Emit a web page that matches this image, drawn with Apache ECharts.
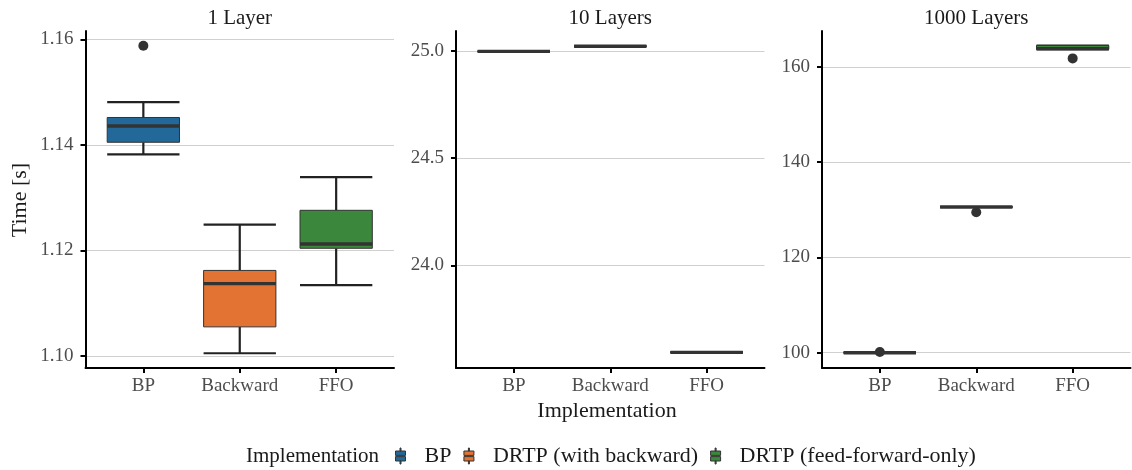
<!DOCTYPE html>
<html><head><meta charset="utf-8">
<script src="https://cdn.jsdelivr.net/npm/echarts@6/dist/echarts.min.js"></script>
<style>html,body{margin:0;padding:0;background:#fff}#c{width:1132px;height:470px}</style>
</head><body><div id="c"></div>
<script>
// ---------- data ----------
const categories = ['BP', 'Backward', 'FFO'];
const panelTitles = ['1 Layer', '10 Layers', '1000 Layers'];
const implementations = ['BP', 'DRTP (with backward)', 'DRTP (feed-forward-only)'];
const implColors = ['#22699A', '#E37332', '#3B873B'];
// boxplot stats per implementation: [lowerWhisker, Q1, median, Q3, upperWhisker]
const layer1Stats = [
  [1.1382, 1.1405, 1.1436, 1.1452, 1.1481],
  [1.1005, 1.1055, 1.1137, 1.1162, 1.1249],
  [1.1134, 1.1204, 1.1212, 1.1276, 1.1339]
];
const layer10Stats = [
  [24.998, 24.998, 24.998, 24.998, 24.998],
  [25.022, 25.022, 25.022, 25.022, 25.022],
  [23.595, 23.595, 23.595, 23.595, 23.595]
];
const layer1000Stats = [
  [100.0, 100.0, 100.0, 100.0, 100.0],
  [130.6, 130.6, 130.6, 130.6, 130.6],
  [163.7, 163.7, 163.85, 164.5, 164.5]
];
// outliers: [categoryIndex, value]
const layer1Outliers = [[0, 1.1588]];
const layer10Outliers = [];
const layer1000Outliers = [[0, 100.15], [1, 129.5], [2, 161.8]];
// y tick values
const layer1Ticks = [1.10, 1.12, 1.14, 1.16];
const layer10Ticks = [24.0, 24.5, 25.0];
const layer1000Ticks = [100, 120, 140, 160];
const layer1Range = [1.0977, 1.1616];
const layer10Range = [23.522, 25.093];
const layer1000Range = [96.79, 167.55];

const panelStats = [layer1Stats, layer10Stats, layer1000Stats];
const panelOutliers = [layer1Outliers, layer10Outliers, layer1000Outliers];
const panelTicks = [layer1Ticks, layer10Ticks, layer1000Ticks];
const panelRanges = [layer1Range, layer10Range, layer1000Range];
const tickDigits = [2, 1, 0];

// ---------- layout ----------
const FONT = 'Liberation Serif';
const gridLefts = [85.5, 456, 822];
const gridWidth = 308.5;
const gridTop = 31, gridHeight = 337;

const chart = echarts.init(document.getElementById('c'), null, {renderer: 'canvas'});

function renderBox(params, api) {
  const x = api.value(0);
  const lo = api.value(1), q1 = api.value(2), md = api.value(3), q3 = api.value(4), hi = api.value(5);
  const hw = api.size([0.75, 0])[0] / 2;
  const pLo = api.coord([x, lo]), pQ1 = api.coord([x, q1]), pMd = api.coord([x, md]);
  const pQ3 = api.coord([x, q3]), pHi = api.coord([x, hi]);
  const cx = pMd[0];
  const color = api.visual('color');
  const wl = {stroke: '#222', lineWidth: 2.2, lineCap: 'butt'};
  return {
    type: 'group',
    children: [
      {type: 'line', shape: {x1: cx, y1: pQ3[1], x2: cx, y2: pHi[1]}, style: wl},
      {type: 'line', shape: {x1: cx, y1: pQ1[1], x2: cx, y2: pLo[1]}, style: wl},
      {type: 'line', shape: {x1: cx - hw, y1: pHi[1], x2: cx + hw, y2: pHi[1]}, style: wl},
      {type: 'line', shape: {x1: cx - hw, y1: pLo[1], x2: cx + hw, y2: pLo[1]}, style: wl},
      {type: 'rect', shape: {x: cx - hw, y: pQ3[1], width: 2 * hw, height: pQ1[1] - pQ3[1]},
        style: {fill: color, stroke: '#333', lineWidth: 1}},
      {type: 'line', shape: {x1: cx - hw, y1: pMd[1], x2: cx + hw, y2: pMd[1]},
        style: {stroke: '#333', lineWidth: 3.4, lineCap: 'butt'}}
    ]
  };
}

const grids = [], xAxes = [], yAxes = [], series = [], titles = [];
for (let p = 0; p < 3; p++) {
  grids.push({left: gridLefts[p], top: gridTop, width: gridWidth, height: gridHeight, containLabel: false});
  xAxes.push({
    type: 'value', gridIndex: p, min: -0.6, max: 2.6,
    axisLine: {show: true, onZero: false, lineStyle: {color: '#000', width: 2}},
    axisTick: {show: true, customValues: [0, 1, 2], length: 5, lineStyle: {color: '#000', width: 2}},
    axisLabel: {customValues: [0, 1, 2], formatter: v => categories[Math.round(v)],
      color: '#4d4d4d', fontFamily: FONT, fontSize: 19, margin: 9},
    splitLine: {show: false}
  });
  const d = tickDigits[p];
  yAxes.push({
    type: 'value', gridIndex: p, min: panelRanges[p][0], max: panelRanges[p][1],
    axisLine: {show: true, onZero: false, lineStyle: {color: '#000', width: 2}},
    axisTick: {show: true, customValues: panelTicks[p], length: 5, lineStyle: {color: '#000', width: 2}},
    axisLabel: {customValues: panelTicks[p], formatter: v => Number(v).toFixed(d),
      color: '#4d4d4d', fontFamily: FONT, fontSize: 19, margin: 12},
    splitLine: {show: true, lineStyle: {color: '#d0d0d0', width: 1}}
  });
  for (let s = 0; s < 3; s++) {
    series.push({
      type: 'custom', name: implementations[s], xAxisIndex: p, yAxisIndex: p,
      itemStyle: {color: implColors[s]},
      dimensions: ['x', 'lo', 'q1', 'md', 'q3', 'hi'],
      encode: {x: 0, y: [1, 2, 3, 4, 5]},
      renderItem: renderBox,
      data: [[s].concat(panelStats[p][s])],
      z: 2
    });
  }
  series.push({
    type: 'scatter', xAxisIndex: p, yAxisIndex: p, symbolSize: 10,
    itemStyle: {color: '#333', opacity: 1}, data: panelOutliers[p], z: 5, silent: true
  });
  titles.push({
    text: panelTitles[p], left: gridLefts[p] + gridWidth / 2, top: 8, textAlign: 'center', padding: 0,
    textStyle: {fontFamily: FONT, fontSize: 21, fontWeight: 'normal', color: '#1a1a1a'}
  });
}

const legendIcon = 'path://M4.5,0H5.5V3H4.5Z M0,3H10V7.4H0Z M0,8.6H10V13H0Z M4.5,13H5.5V16H4.5Z';

chart.setOption({
  animation: false,
  backgroundColor: '#fff',
  title: titles,
  grid: grids,
  xAxis: xAxes,
  yAxis: yAxes,
  legend: {
    data: implementations, left: 395, top: 445, padding: 0, itemGap: 12,
    itemWidth: 10, itemHeight: 16, icon: legendIcon,
    itemStyle: {borderColor: '#333', borderWidth: 1},
    textStyle: {fontFamily: FONT, fontSize: 22, color: '#1a1a1a', padding: [0, 0, 0, 14]},
    selectedMode: false
  },
  graphic: [
    {type: 'text', x: 20, y: 200, rotation: Math.PI / 2,
      style: {text: 'Time [s]', fontFamily: FONT, fontSize: 22, fill: '#1a1a1a', align: 'center', verticalAlign: 'middle'}},
    {type: 'text', x: 607, y: 411,
      style: {text: 'Implementation', fontFamily: FONT, fontSize: 22, fill: '#1a1a1a', align: 'center', verticalAlign: 'middle'}},
    {type: 'text', x: 246, y: 456,
      style: {text: 'Implementation', fontFamily: FONT, fontSize: 21, fill: '#1a1a1a', align: 'left', verticalAlign: 'middle'}}
  ],
  series: series
});
</script></body></html>
